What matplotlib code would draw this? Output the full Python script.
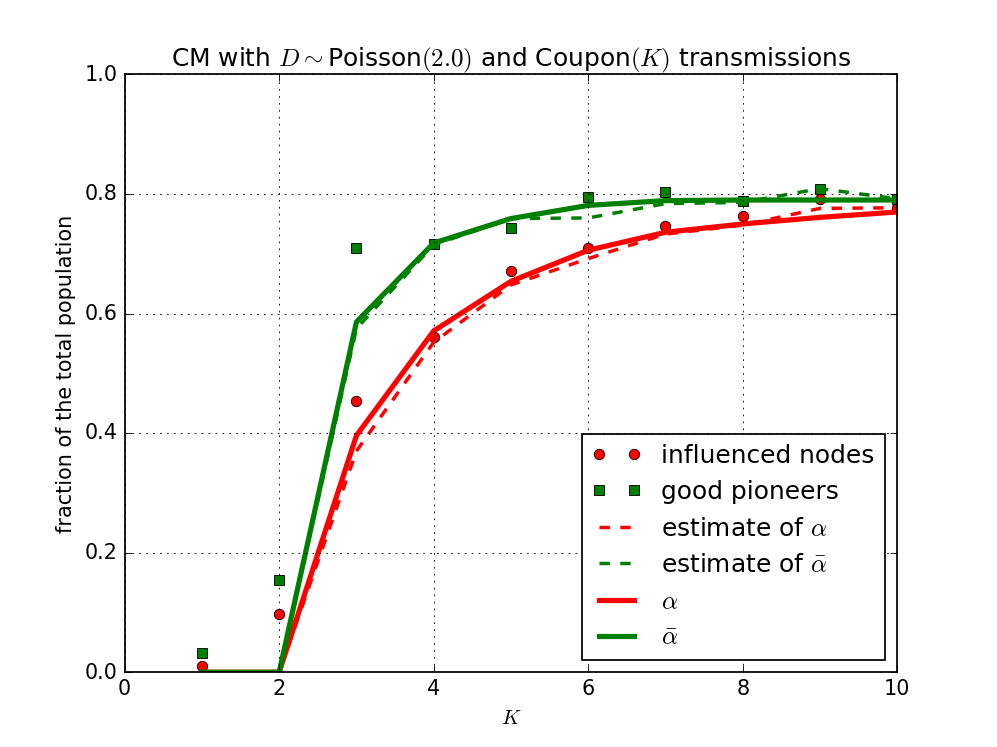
import numpy as np
import matplotlib
matplotlib.use("Agg")
import matplotlib.pyplot as plt

plt.style.use('classic')

K=[1,2,3,4,5,6,7,8,9,10]
influenced=[0.011,0.098,0.454,0.561,0.672,0.710,0.746,0.763,0.791,0.777]
pioneers=[0.033,0.155,0.710,0.716,0.743,0.795,0.803,0.788,0.809,0.791]
est_alpha=[0.0,0.0,0.370,0.552,0.648,0.692,0.733,0.748,0.776,0.777]
est_alphabar=[0.0,0.0,0.575,0.715,0.759,0.760,0.784,0.786,0.809,0.792]
alpha=[0.0,0.0,0.396,0.571,0.654,0.706,0.736,0.750,0.761,0.770]
alphabar=[0.0,0.0,0.586,0.718,0.759,0.781,0.789,0.790,0.790,0.790]

fig=plt.figure(figsize=(8,5.996),facecolor='white')
ax=fig.add_subplot(111)

ax.plot(K,influenced,'ro',markersize=6,label="influenced nodes")
ax.plot(K,pioneers,'gs',markersize=6,label="good pioneers")
ax.plot(K,est_alpha,'r--',lw=2,label=r"estimate of $\alpha$")
ax.plot(K,est_alphabar,'g--',lw=2,label=r"estimate of $\bar{\alpha}$")
ax.plot(K,alpha,'r-',lw=3,label=r"$\alpha$")
ax.plot(K,alphabar,'g-',lw=3,label=r"$\bar{\alpha}$")

ax.set_xlim(0,10)
ax.set_ylim(0,1.0)
ax.grid(True)
ax.set_title(r"CM with $D\sim$Poisson$(2.0)$ and Coupon$(K)$ transmissions")
ax.set_xlabel(r"$K$")
ax.set_ylabel("fraction of the total population")
ax.legend(loc="lower right",numpoints=2)

fig.savefig("out.png",dpi=124.625,facecolor='white')
